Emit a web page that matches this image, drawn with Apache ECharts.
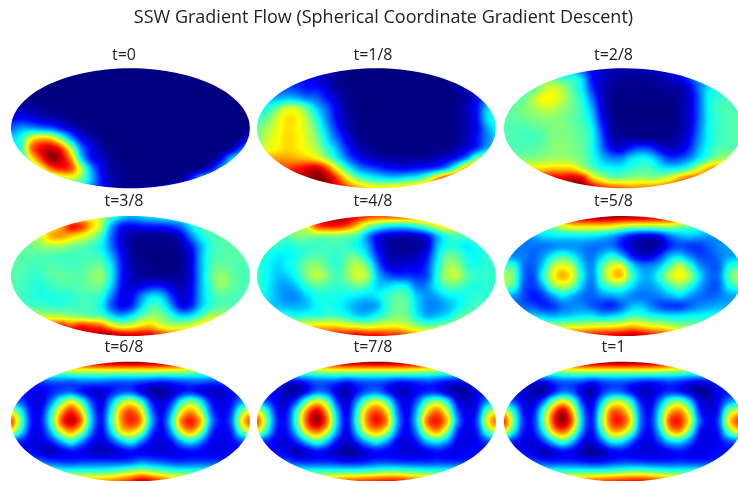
<!DOCTYPE html>
<html><head><meta charset="utf-8">
<style>html,body{margin:0;padding:0;background:#fff;overflow:hidden}#c{width:738px;height:481px}</style>
<script src="https://cdn.jsdelivr.net/npm/echarts@6/dist/echarts.min.js"></script>
</head><body><div id="c"></div>
<script>
const chartTitle='SSW Gradient Flow (Spherical Coordinate Gradient Descent)';
const panelTitles=['t=0','t=1/8','t=2/8','t=3/8','t=4/8','t=5/8','t=6/8','t=7/8','t=1'];
const t0=[
[0,0,0,0,0,0,0,0,0,0,0,0,0,0,0,0,0,0,0,0,0,0,0,0,0],
[0,0,0,0,0,0,0,0,0,0,0,0,0,0,0,0,0,0,0,0,0,0,0,0,0],
[0,0,0,0,0,0,0,0,0,0,0,0,0,0,0,0,0,0,0,0,0,0,0,0,0],
[1,1,0,0,0,0,0,0,0,0,0,0,0,0,0,0,0,0,0,0,0,0,0,0,0],
[5,5,4,2,1,0,0,0,0,0,0,0,0,0,0,0,0,0,0,0,0,0,0,0,0],
[12,12,10,7,5,3,1,0,0,0,0,0,0,0,0,0,0,0,0,0,0,0,0,0,0],
[22,28,28,25,22,15,8,3,1,0,0,0,0,0,0,0,0,0,0,0,0,0,0,0,2],
[34,40,60,68,65,48,28,12,5,1,0,0,0,0,0,0,0,0,0,0,0,0,0,3,15],
[36,42,75,88,92,82,55,25,12,4,1,0,0,0,0,0,0,0,0,0,0,0,3,20,30],
[36,38,62,82,98,92,72,35,14,8,2,0,0,0,0,0,0,0,0,0,0,10,30,40,40],
[40,42,45,60,78,85,80,55,28,12,3,1,0,0,0,0,0,0,0,2,12,28,36,40,40],
[40,40,40,40,48,55,58,50,32,14,5,2,1,0,0,0,0,2,14,30,36,36,36,36,36],
[40,40,40,40,40,40,40,35,25,15,6,2,1,2,3,5,8,14,24,34,36,36,36,36,36]];
const t1=[
[12,12,10,10,8,8,6,5,3,1,0,0,0,0,0,0,0,0,0,0,1,2,3,5,5],
[15,15,14,14,14,12,8,5,2,0,0,0,0,0,0,0,0,0,0,0,1,3,6,8,8],
[20,20,20,20,18,14,14,8,3,1,0,0,0,0,0,0,0,0,0,0,3,5,8,12,12],
[30,30,30,32,30,25,22,14,7,2,0,0,0,0,0,0,0,0,0,0,1,3,12,22,28],
[38,40,48,58,56,46,32,22,10,3,0,0,0,0,0,0,0,0,0,0,2,6,14,32,36],
[42,48,58,65,63,54,40,25,12,4,1,0,0,0,0,0,0,0,0,0,2,5,14,34,40],
[48,54,60,65,63,57,45,30,16,6,1,0,0,0,0,0,0,0,0,0,2,5,12,28,38],
[50,57,62,66,64,58,50,35,22,10,3,0,0,0,0,0,0,0,0,0,2,6,14,25,32],
[58,60,63,66,64,60,54,42,30,16,7,3,1,0,0,0,0,0,1,2,5,10,18,30,34],
[70,72,72,72,70,68,63,52,38,24,14,8,5,4,3,3,3,4,6,9,15,28,50,60,60],
[85,85,82,82,85,90,92,80,60,42,28,22,18,14,12,12,14,16,20,30,50,75,85,85,85],
[90,90,92,95,95,95,100,96,82,64,50,42,38,35,35,38,42,52,70,85,90,90,90,90,90],
[95,95,95,95,95,95,95,95,90,80,72,66,62,64,66,70,75,80,85,88,88,88,88,88,88]];
const t2=[
[35,35,35,35,35,35,30,25,20,12,7,5,5,5,5,6,8,10,14,20,25,25,25,25,25],
[48,48,48,48,48,48,42,42,33,14,8,4,2,2,2,3,4,6,10,18,25,25,25,25,25],
[48,48,48,45,55,58,54,45,36,18,6,3,1,1,1,1,2,3,4,10,24,35,38,38,38],
[47,47,47,55,62,62,56,48,40,24,8,2,1,1,1,1,1,1,3,8,22,38,42,44,44],
[47,47,50,53,57,56,52,48,42,30,10,2,0,0,0,0,0,0,3,8,22,38,44,45,45],
[46,47,48,50,51,51,50,47,43,34,13,3,0,0,0,0,0,0,3,8,22,37,43,45,46],
[45,45,45,46,48,50,50,48,45,38,18,4,1,1,1,1,1,1,3,9,24,38,43,45,46],
[45,45,44,44,46,50,50,49,46,40,22,6,3,3,2,2,2,2,5,12,26,38,43,45,46],
[45,45,45,46,48,51,51,50,47,40,25,12,9,16,20,18,10,6,8,16,30,40,45,46,46],
[50,50,50,50,52,53,53,52,48,42,32,26,26,34,38,36,26,18,20,26,36,45,52,55,55],
[65,65,65,65,65,67,67,66,56,47,40,38,38,42,44,44,38,36,38,45,58,70,75,75,75],
[80,80,85,88,90,90,90,92,88,68,58,50,50,52,54,52,54,60,70,78,80,80,80,80,80],
[95,95,95,95,95,95,98,100,100,92,84,80,78,74,74,76,78,82,85,85,85,85,85,85,85]];
const t3=[
[55,55,55,55,55,55,55,60,62,55,45,35,30,33,35,38,40,42,45,45,45,45,45,45,45],
[60,60,60,60,60,70,85,82,68,55,30,15,12,14,15,16,18,24,36,45,45,45,45,45,45],
[55,55,55,58,70,72,68,62,55,44,24,10,4,2,2,2,3,10,25,38,44,46,46,46,46],
[48,48,48,52,54,54,50,47,44,38,24,10,3,1,1,1,1,4,14,30,42,45,46,46,46],
[46,46,46,45,45,44,44,44,44,42,30,14,4,1,0,0,0,2,10,30,43,45,46,46,46],
[46,46,44,44,46,45,44,45,47,47,36,16,5,2,1,0,0,2,10,30,44,48,46,45,45],
[46,45,43,43,46,47,46,46,50,52,38,16,6,3,2,2,2,3,10,30,46,52,48,45,45],
[46,44,42,41,43,45,45,46,48,48,34,14,8,10,14,14,8,5,11,30,44,52,48,45,45],
[44,44,42,40,41,41,42,44,44,42,26,12,12,24,34,32,18,8,12,30,42,46,45,45,45],
[44,44,44,44,42,42,43,44,44,38,22,12,16,32,44,42,28,12,16,32,42,46,46,46,46],
[56,56,56,56,56,55,52,50,48,46,36,30,36,46,52,50,42,34,36,46,55,55,55,55,55],
[80,80,80,80,82,85,80,85,82,78,66,58,60,66,68,60,56,56,60,68,70,70,70,70,70],
[95,95,95,95,95,95,95,95,95,100,98,95,92,92,90,85,80,80,80,80,80,80,80,80,80]];
const t4=[
[75,75,75,75,75,75,78,92,98,95,88,82,80,80,80,80,78,76,75,72,72,72,72,72,72],
[55,55,55,55,55,62,80,85,85,80,68,54,44,38,36,37,42,50,60,65,60,55,55,55,55],
[46,46,46,46,50,50,50,50,50,48,44,28,14,8,6,6,8,14,30,42,45,45,45,45,45],
[42,42,42,40,42,43,43,44,44,43,38,30,12,5,2,2,3,8,30,40,40,36,40,42,42],
[40,40,36,37,40,44,46,44,42,46,47,36,18,6,4,4,6,14,34,48,46,40,38,42,42],
[42,38,34,37,42,50,52,46,42,50,56,48,26,10,8,10,10,18,38,52,52,42,40,42,42],
[42,38,32,33,40,50,56,50,44,50,58,54,32,22,18,18,16,20,40,54,56,46,42,42,42],
[42,37,30,28,33,42,46,44,42,44,48,44,34,34,38,36,24,26,38,46,46,42,40,42,42],
[38,36,30,26,27,34,40,40,40,38,36,34,36,42,46,44,32,27,30,36,38,40,42,42,42],
[34,34,32,30,30,32,38,40,38,34,29,27,30,42,48,46,34,26,26,30,36,42,44,44,44],
[42,42,42,42,40,42,42,44,44,40,34,34,40,46,50,48,38,30,32,36,44,48,48,48,48],
[60,60,60,60,62,64,66,66,66,62,60,58,60,62,62,58,52,48,50,52,56,56,56,56,56],
[80,80,80,80,82,84,85,85,88,90,92,88,88,85,85,80,75,72,72,72,72,72,72,72,72]];
const t5=[
[88,88,88,88,88,88,90,92,96,98,100,98,97,96,95,94,92,90,88,85,85,85,85,85,85],
[50,50,50,50,50,52,60,65,66,66,66,64,60,56,55,55,56,56,52,48,46,46,46,46,46],
[28,28,28,30,34,36,37,37,37,36,34,30,22,15,10,10,14,24,30,32,30,28,28,28,28],
[26,26,24,24,24,26,27,27,26,24,24,24,16,8,3,2,6,16,20,18,18,22,26,28,28],
[30,26,25,22,28,38,44,38,28,24,32,40,32,16,9,9,18,30,34,26,20,20,24,28,30],
[44,42,24,22,34,54,60,54,34,26,44,58,60,38,26,26,32,46,56,44,28,22,22,38,44],
[54,48,24,20,40,60,70,60,38,26,46,64,68,46,32,30,42,56,62,54,36,24,24,44,54],
[50,44,22,18,30,50,56,50,32,24,38,46,46,36,28,28,34,44,50,42,30,22,22,38,44],
[30,28,20,14,18,28,36,30,24,22,26,28,30,26,24,24,26,30,34,28,24,22,24,28,30],
[24,24,22,20,16,18,24,26,26,22,18,16,22,30,32,26,20,18,18,22,26,28,30,30,30],
[34,34,34,34,32,30,32,34,36,36,32,34,38,44,44,40,38,36,36,38,38,40,40,40,40],
[56,56,56,56,56,56,56,58,58,60,62,62,64,68,66,62,60,56,52,52,52,52,52,52,52],
[84,84,84,84,84,84,84,85,86,87,88,90,92,95,92,88,84,82,80,80,80,80,80,80,80]];
const t6=[
[88,88,88,88,88,88,88,90,93,95,96,97,98,97,96,95,93,90,88,85,85,85,85,85,85],
[55,55,55,55,55,52,54,55,55,56,56,56,56,56,56,55,55,54,52,50,50,50,50,50,50],
[20,20,20,20,22,22,22,24,24,24,22,22,22,20,18,16,18,20,22,22,20,20,20,20,20],
[14,14,12,11,15,20,22,15,9,8,14,20,20,11,4,3,6,13,16,10,7,8,13,14,14],
[26,20,11,10,24,46,60,44,20,10,28,50,58,42,16,8,16,38,50,36,14,9,13,26,30],
[60,38,14,13,38,68,84,66,30,13,38,70,80,64,26,11,28,60,72,54,22,11,18,48,64],
[80,48,16,15,42,78,92,76,34,14,42,72,84,72,32,13,36,74,85,68,28,13,22,60,80],
[62,38,13,12,32,60,72,56,26,12,34,62,68,54,22,11,28,60,72,52,20,11,16,46,60],
[22,16,10,9,16,30,42,28,14,9,18,32,40,26,12,9,14,30,38,26,12,10,12,20,22],
[13,13,12,8,6,10,14,12,8,5,7,11,14,11,9,9,9,12,14,12,10,10,12,13,13],
[22,22,22,22,18,17,16,18,18,18,18,18,20,24,22,20,18,17,18,18,18,18,18,18,18],
[44,44,44,44,44,42,42,42,42,42,44,48,52,56,52,48,44,42,42,42,42,42,42,42,42],
[72,72,72,72,72,72,72,72,72,72,74,78,84,92,88,80,74,72,72,72,72,72,72,72,72]];
const t7=[
[88,88,88,88,88,88,88,90,93,95,96,97,98,97,96,95,93,90,88,85,85,85,85,85,85],
[54,54,54,54,54,50,52,54,55,55,55,55,55,55,55,55,54,52,50,48,48,48,48,48,48],
[20,20,16,12,12,18,22,22,20,16,20,22,22,20,16,16,18,20,18,14,12,14,18,18,18],
[14,14,10,5,4,14,24,21,9,5,14,22,24,16,7,7,12,16,16,8,3,4,12,14,14],
[30,20,10,8,22,48,62,48,18,8,28,50,58,44,18,10,22,44,52,38,12,7,12,26,32],
[62,40,14,14,42,74,90,68,30,11,40,70,80,64,26,11,32,64,76,58,22,9,16,48,62],
[80,48,17,16,46,80,97,76,34,13,42,74,86,72,30,13,36,76,85,68,28,11,20,60,78],
[62,38,14,14,36,66,76,60,28,11,34,62,70,56,24,11,28,60,72,52,18,10,16,44,60],
[22,16,10,9,18,34,46,32,14,7,18,32,40,28,12,9,16,32,38,28,12,10,12,20,24],
[13,13,12,10,5,10,14,12,6,3,5,11,14,12,10,9,9,12,15,12,10,12,13,13,13],
[20,20,20,20,16,15,16,16,14,12,13,15,18,18,17,16,16,16,17,16,16,16,18,18,18],
[42,42,42,42,42,42,42,42,42,42,42,44,46,48,48,46,44,42,42,42,42,42,42,42,42],
[72,72,72,72,72,72,72,74,76,78,80,82,84,86,86,82,78,76,72,72,72,72,72,72,72]];
const t8=[
[88,88,88,88,88,88,88,90,93,95,96,97,98,97,96,95,93,90,88,85,85,85,85,85,85],
[54,54,54,54,54,50,52,54,55,55,55,55,55,55,55,55,54,52,50,48,48,48,48,48,48],
[20,20,15,12,12,18,22,22,20,16,20,22,22,20,17,16,18,20,18,14,12,14,18,18,18],
[14,14,9,5,4,14,24,21,9,5,16,23,22,14,7,7,13,17,15,8,3,4,12,14,14],
[30,20,10,8,22,48,62,48,18,9,32,54,56,40,15,10,26,46,50,34,11,7,12,26,32],
[62,40,14,14,42,74,92,68,28,13,46,76,76,56,22,13,38,68,74,54,18,9,16,50,62],
[82,48,17,16,46,80,98,76,32,15,50,80,84,64,24,15,42,80,84,62,24,11,20,62,80],
[64,38,14,14,36,66,78,60,26,13,40,68,68,50,20,13,34,66,72,48,16,10,16,46,62],
[22,16,10,9,18,34,46,32,13,8,22,38,38,24,11,10,20,34,36,24,11,10,12,20,24],
[13,13,12,10,5,10,14,12,6,3,6,12,14,11,9,9,10,13,15,12,10,12,13,13,13],
[20,20,20,20,16,15,16,16,14,12,13,16,18,18,17,16,16,16,17,16,16,16,18,18,18],
[42,42,42,42,42,42,42,42,42,42,42,44,46,48,48,46,44,42,42,42,42,42,42,42,42],
[72,72,72,72,72,72,72,74,76,78,80,82,84,86,86,84,80,76,72,72,72,72,72,72,72]];
const fields=[t0,t1,t2,t3,t4,t5,t6,t7,t8];
const COLS=25,ROWS=13,S=10;
const lefts=[11,257,504],tops=[68.3,216,361.7];
const labelCenters=[124,373,613.5],labelTops=[47,193,339];
const FONT='"Open Sans",sans-serif';

function jet(v){const t=v/100,c=x=>Math.max(0,Math.min(1,x));
  return [c(1.5-Math.abs(4*t-3))*255,c(1.5-Math.abs(4*t-2))*255,c(1.5-Math.abs(4*t-1))*255];}
function cr(a,b,c,d,f){return b+0.5*f*(c-a+f*(2*a-5*b+4*c-d+f*(3*(b-c)+d-a)));}
function texture(rows){
  const cv=document.createElement('canvas');cv.width=COLS*S;cv.height=ROWS*S;
  const g=cv.getContext('2d'),im=g.createImageData(cv.width,cv.height);
  const at=(j,i)=>rows[Math.max(0,Math.min(ROWS-1,j))][Math.max(0,Math.min(COLS-1,i))];
  for(let py=0;py<cv.height;py++)for(let px=0;px<cv.width;px++){
    const u=(px+.5)/S-.5,w=(py+.5)/S-.5,i=Math.floor(u),j=Math.floor(w),fu=u-i,fw=w-j,r=[];
    for(let k=-1;k<3;k++)r.push(cr(at(j+k,i-1),at(j+k,i),at(j+k,i+1),at(j+k,i+2),fu));
    const col=jet(Math.max(0,Math.min(100,cr(r[0],r[1],r[2],r[3],fw)))),o=(py*cv.width+px)*4;
    im.data[o]=col[0];im.data[o+1]=col[1];im.data[o+2]=col[2];im.data[o+3]=255;
  }
  g.putImageData(im,0,0);return cv;
}
const grid=[],xAxis=[],yAxis=[],series=[],title=[{text:chartTitle,left:383.5,top:9,padding:0,textAlign:'center',
  textStyle:{fontFamily:FONT,fontSize:18,fontWeight:'normal',color:'#222'}}];
fields.forEach((rows,p)=>{
  const col=p%3,row=Math.floor(p/3),L=lefts[col],T=tops[row],tex=texture(rows);
  grid.push({left:L,top:T,width:240,height:120,show:false});
  xAxis.push({type:'value',gridIndex:p,min:0,max:COLS-1,show:false});
  yAxis.push({type:'value',gridIndex:p,min:0,max:ROWS-1,inverse:true,show:false});
  title.push({text:panelTitles[p],left:labelCenters[col],top:labelTops[row],padding:0,textAlign:'center',
    textStyle:{fontFamily:FONT,fontSize:16,fontWeight:'normal',color:'#222'}});
  const data=[];rows.forEach((r,j)=>r.forEach((v,i)=>data.push([i,j,v])));
  series.push({type:'custom',xAxisIndex:p,yAxisIndex:p,coordinateSystem:'cartesian2d',data,silent:true,
    animation:false,clip:false,encode:{x:0,y:1},
    renderItem(params,api){
      const i=api.value(0),j=api.value(1),c=api.coord([i,j]),sz=api.size([1,1]);
      return {type:'image',
        style:{image:tex,x:c[0]-sz[0]/2,y:c[1]-sz[1]/2,width:sz[0],height:sz[1],sx:i*S,sy:j*S,sWidth:S,sHeight:S},
        clipPath:{type:'ellipse',shape:{cx:L+119.4,cy:T+60,rx:119.4,ry:60}}};
    }});
});
const chart=echarts.init(document.getElementById('c'),null,{renderer:'canvas'});
chart.setOption({animation:false,backgroundColor:'#fff',title,grid,xAxis,yAxis,series});
</script></body></html>
